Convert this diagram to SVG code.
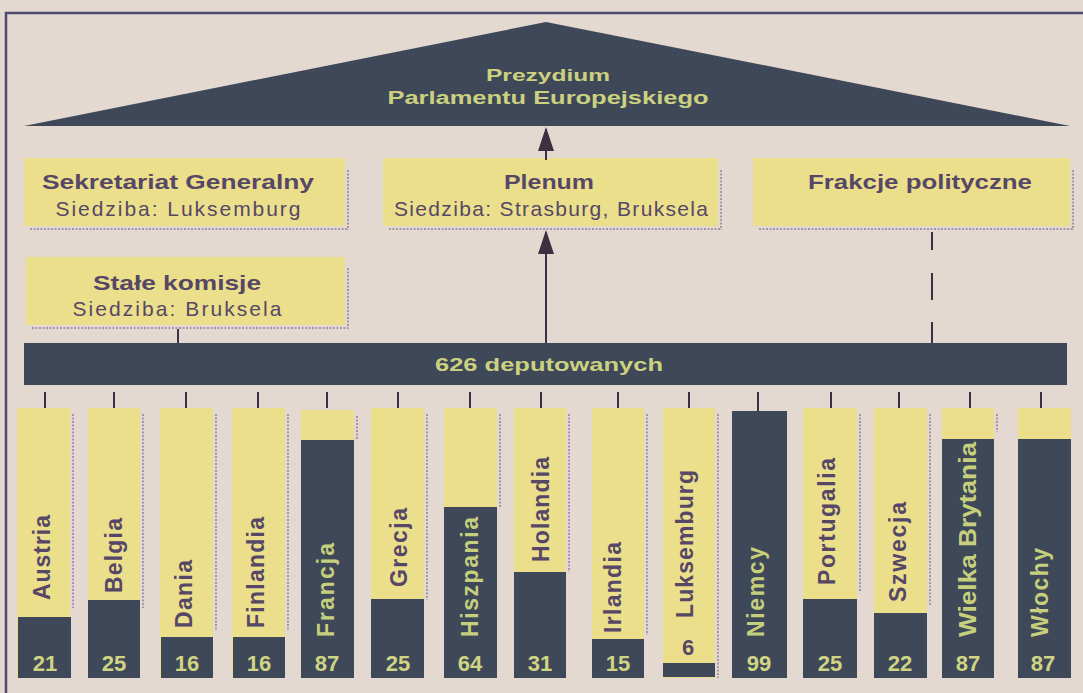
<svg xmlns="http://www.w3.org/2000/svg" width="1083" height="693" viewBox="0 0 1083 693">
  <defs>
    <style>
      .paper { fill: #e3d9d1; }
      .frame { stroke: #4d4b72; stroke-width: 2.5; fill: none; }
      .slate { fill: #3f4859; }
      .panel { fill: #ebdf8c; }
      .shadow { stroke: #a796a8; stroke-width: 2; stroke-dasharray: 2 1.5; fill: none; }
      .ttl { font-family: "Liberation Sans", Arial, sans-serif; font-weight: bold; font-size: 21px; fill: #574766; text-anchor: middle; }
      .sub { font-family: "Liberation Sans", Arial, sans-serif; font-size: 21px; fill: #574766; text-anchor: middle; }
      .lite { font-family: "Liberation Sans", Arial, sans-serif; font-weight: bold; fill: #cbd17f; text-anchor: middle; }
      .lbl { font-family: "Liberation Sans", Arial, sans-serif; font-weight: bold; font-size: 23px; }
      .lbl-dark { fill: #574766; }
      .lbl-lite { fill: #c6cf7c; }
      .num { font-family: "Liberation Sans", Arial, sans-serif; font-weight: bold; font-size: 22px; text-anchor: middle; fill: #cfd583; }
      .num-dark { fill: #574766; }
      .wire { stroke: #3b3140; stroke-width: 2; fill: none; }
    </style>
    <!-- arrowhead drawn along +x so orient="auto" turns it with the line -->
    <marker id="arrowhead" viewBox="0 0 24 16" refX="22" refY="8" markerWidth="24" markerHeight="16" markerUnits="userSpaceOnUse" orient="auto">
      <path d="M0,0 L24,8 L0,16 Z" fill="#3b3140"/>
    </marker>
  </defs>

  <!-- paper and frame -->
  <rect class="paper" x="0" y="0" width="1083" height="693"/>
  <path class="frame" d="M6,693 L6,13 L1083,13"/>

  <!-- presidium roof -->
  <g id="prezydium">
    <polygon class="slate" points="24,126 546,22 1070,126"/>
    <text class="lite" x="548" y="81" font-size="17" textLength="124" lengthAdjust="spacingAndGlyphs">Prezydium</text>
    <text class="lite" x="548" y="104" font-size="18" textLength="321" lengthAdjust="spacingAndGlyphs">Parlamentu Europejskiego</text>
  </g>

  <!-- bodies -->
  <g id="sekretariat">
    <rect class="panel" x="24" y="158" width="321" height="68"/>
    <path class="shadow" d="M348,170 L348,230 M30,229 L348,229"/>
    <text class="ttl" x="178" y="189" textLength="272" lengthAdjust="spacingAndGlyphs">Sekretariat Generalny</text>
    <text class="sub" x="178" y="216" textLength="245" lengthAdjust="spacing">Siedziba: Luksemburg</text>
  </g>

  <g id="plenum">
    <rect class="panel" x="383" y="158" width="335" height="68"/>
    <path class="shadow" d="M721,170 L721,230 M389,229 L721,229"/>
    <text class="ttl" x="549" y="189" textLength="90" lengthAdjust="spacingAndGlyphs">Plenum</text>
    <text class="sub" x="551" y="216" textLength="314" lengthAdjust="spacing">Siedziba: Strasburg, Bruksela</text>
  </g>

  <g id="frakcje">
    <rect class="panel" x="753" y="158" width="317" height="68"/>
    <path class="shadow" d="M1073,170 L1073,230 M759,229 L1073,229"/>
    <text class="ttl" x="920" y="189" textLength="224" lengthAdjust="spacingAndGlyphs">Frakcje polityczne</text>
  </g>

  <g id="komisje">
    <rect class="panel" x="26" y="257" width="319" height="68"/>
    <path class="shadow" d="M348,268 L348,329 M32,328 L348,328"/>
    <text class="ttl" x="177" y="290" textLength="168" lengthAdjust="spacingAndGlyphs">Stałe komisje</text>
    <text class="sub" x="177" y="316" textLength="209" lengthAdjust="spacing">Siedziba: Bruksela</text>
  </g>

  <g id="deputowani">
    <rect class="slate" x="24" y="343" width="1043" height="42"/>
    <text class="lite" x="549" y="371" font-size="19" textLength="228" lengthAdjust="spacingAndGlyphs">626 deputowanych</text>
  </g>

  <!-- connectors -->
  <g id="connectors">
    <line class="wire" x1="546" y1="160" x2="546" y2="129" marker-end="url(#arrowhead)"/>
    <line class="wire" x1="546" y1="343" x2="546" y2="232" marker-end="url(#arrowhead)"/>
    <line class="wire" x1="178" y1="329" x2="178" y2="343"/>
    <path class="wire" d="M932,232 L932,250 M932,273 L932,300 M932,322 L932,343"/>
    <path class="wire" d="M45,392 V408 M114,392 V408 M186,392 V408 M258,392 V408 M327,392 V408 M398,392 V408 M470,392 V408 M541,392 V408 M618,392 V408 M689,392 V408 M758,392 V412 M831,392 V408 M899,392 V408 M970,392 V408 M1041,392 V408"/>
  </g>

  <!-- member states: seats per country -->
  <g id="austria">
    <rect class="panel" x="17" y="408" width="53" height="270"/>
    <path class="shadow" d="M73,414 V608"/>
    <rect class="slate" x="18" y="617" width="53" height="61"/>
    <text class="lbl lbl-dark" transform="translate(50,600) rotate(-90)" textLength="85" lengthAdjust="spacing">Austria</text>
    <text class="num" x="45" y="671">21</text>
  </g>
  <g id="belgia">
    <rect class="panel" x="88" y="408" width="52" height="270"/>
    <path class="shadow" d="M143,414 V608"/>
    <rect class="slate" x="88" y="600" width="52" height="78"/>
    <text class="lbl lbl-dark" transform="translate(122,593) rotate(-90)" textLength="75" lengthAdjust="spacing">Belgia</text>
    <text class="num" x="114" y="671">25</text>
  </g>
  <g id="dania">
    <rect class="panel" x="160" y="408" width="53" height="270"/>
    <path class="shadow" d="M216,414 V630"/>
    <rect class="slate" x="161" y="637" width="52" height="41"/>
    <text class="lbl lbl-dark" transform="translate(192,628) rotate(-90)" textLength="68" lengthAdjust="spacing">Dania</text>
    <text class="num" x="187" y="671">16</text>
  </g>
  <g id="finlandia">
    <rect class="panel" x="232" y="408" width="53" height="270"/>
    <path class="shadow" d="M288,414 V630"/>
    <rect class="slate" x="233" y="637" width="52" height="41"/>
    <text class="lbl lbl-dark" transform="translate(264,628) rotate(-90)" textLength="111" lengthAdjust="spacing">Finlandia</text>
    <text class="num" x="259" y="671">16</text>
  </g>
  <g id="francja">
    <rect class="panel" x="301" y="410" width="53" height="268"/>
    <path class="shadow" d="M357,416 V440"/>
    <rect class="slate" x="301" y="440" width="53" height="238"/>
    <text class="lbl lbl-lite" transform="translate(334,637) rotate(-90)" textLength="94" lengthAdjust="spacing">Francja</text>
    <text class="num" x="327" y="671">87</text>
  </g>
  <g id="grecja">
    <rect class="panel" x="371" y="408" width="53" height="270"/>
    <path class="shadow" d="M427,414 V600"/>
    <rect class="slate" x="371" y="599" width="53" height="79"/>
    <text class="lbl lbl-dark" transform="translate(407,587) rotate(-90)" textLength="79" lengthAdjust="spacing">Grecja</text>
    <text class="num" x="398" y="671">25</text>
  </g>
  <g id="hiszpania">
    <rect class="panel" x="444" y="408" width="53" height="270"/>
    <path class="shadow" d="M500,414 V507"/>
    <rect class="slate" x="444" y="507" width="53" height="171"/>
    <text class="lbl lbl-lite" transform="translate(478,637) rotate(-90)" textLength="120" lengthAdjust="spacing">Hiszpania</text>
    <text class="num" x="470" y="671">64</text>
  </g>
  <g id="holandia">
    <rect class="panel" x="514" y="408" width="52" height="270"/>
    <path class="shadow" d="M569,414 V572"/>
    <rect class="slate" x="514" y="572" width="52" height="106"/>
    <text class="lbl lbl-dark" transform="translate(549,562) rotate(-90)" textLength="105" lengthAdjust="spacing">Holandia</text>
    <text class="num" x="540" y="671">31</text>
  </g>
  <g id="irlandia">
    <rect class="panel" x="592" y="408" width="52" height="270"/>
    <path class="shadow" d="M647,414 V635"/>
    <rect class="slate" x="592" y="639" width="52" height="39"/>
    <text class="lbl lbl-dark" transform="translate(621,633) rotate(-90)" textLength="91" lengthAdjust="spacing">Irlandia</text>
    <text class="num" x="618" y="671">15</text>
  </g>
  <g id="luksemburg">
    <rect class="panel" x="663" y="408" width="52" height="270"/>
    <path class="shadow" d="M718,414 V678"/>
    <rect class="slate" x="663" y="663" width="52" height="14"/>
    <text class="lbl lbl-dark" transform="translate(693,618) rotate(-90)" textLength="148" lengthAdjust="spacing">Luksemburg</text>
    <text class="num num-dark" x="688" y="655">6</text>
  </g>
  <g id="niemcy">
    <rect class="slate" x="732" y="411" width="55" height="267"/>
    <text class="lbl lbl-lite" transform="translate(764,637) rotate(-90)" textLength="90" lengthAdjust="spacing">Niemcy</text>
    <text class="num" x="759" y="671">99</text>
  </g>
  <g id="portugalia">
    <rect class="panel" x="803" y="408" width="54" height="270"/>
    <path class="shadow" d="M860,414 V592"/>
    <rect class="slate" x="803" y="599" width="54" height="79"/>
    <text class="lbl lbl-dark" transform="translate(835,585) rotate(-90)" textLength="127" lengthAdjust="spacing">Portugalia</text>
    <text class="num" x="830" y="671">25</text>
  </g>
  <g id="szwecja">
    <rect class="panel" x="874" y="408" width="53" height="270"/>
    <path class="shadow" d="M930,414 V606"/>
    <rect class="slate" x="874" y="613" width="53" height="65"/>
    <text class="lbl lbl-dark" transform="translate(906,602) rotate(-90)" textLength="100" lengthAdjust="spacing">Szwecja</text>
    <text class="num" x="900" y="671">22</text>
  </g>
  <g id="wielka-brytania">
    <rect class="panel" x="942" y="408" width="52" height="270"/>
    <path class="shadow" d="M997,414 V432"/>
    <rect class="slate" x="942" y="439" width="52" height="239"/>
    <text class="lbl lbl-lite" transform="translate(976,637) rotate(-90)" textLength="195" lengthAdjust="spacingAndGlyphs">Wielka Brytania</text>
    <text class="num" x="968" y="671">87</text>
  </g>
  <g id="wlochy">
    <rect class="panel" x="1018" y="408" width="53" height="270"/>
    <rect class="slate" x="1018" y="439" width="53" height="239"/>
    <text class="lbl lbl-lite" transform="translate(1048,637) rotate(-90)" textLength="89" lengthAdjust="spacing">Włochy</text>
    <text class="num" x="1043" y="671">87</text>
  </g>
</svg>
